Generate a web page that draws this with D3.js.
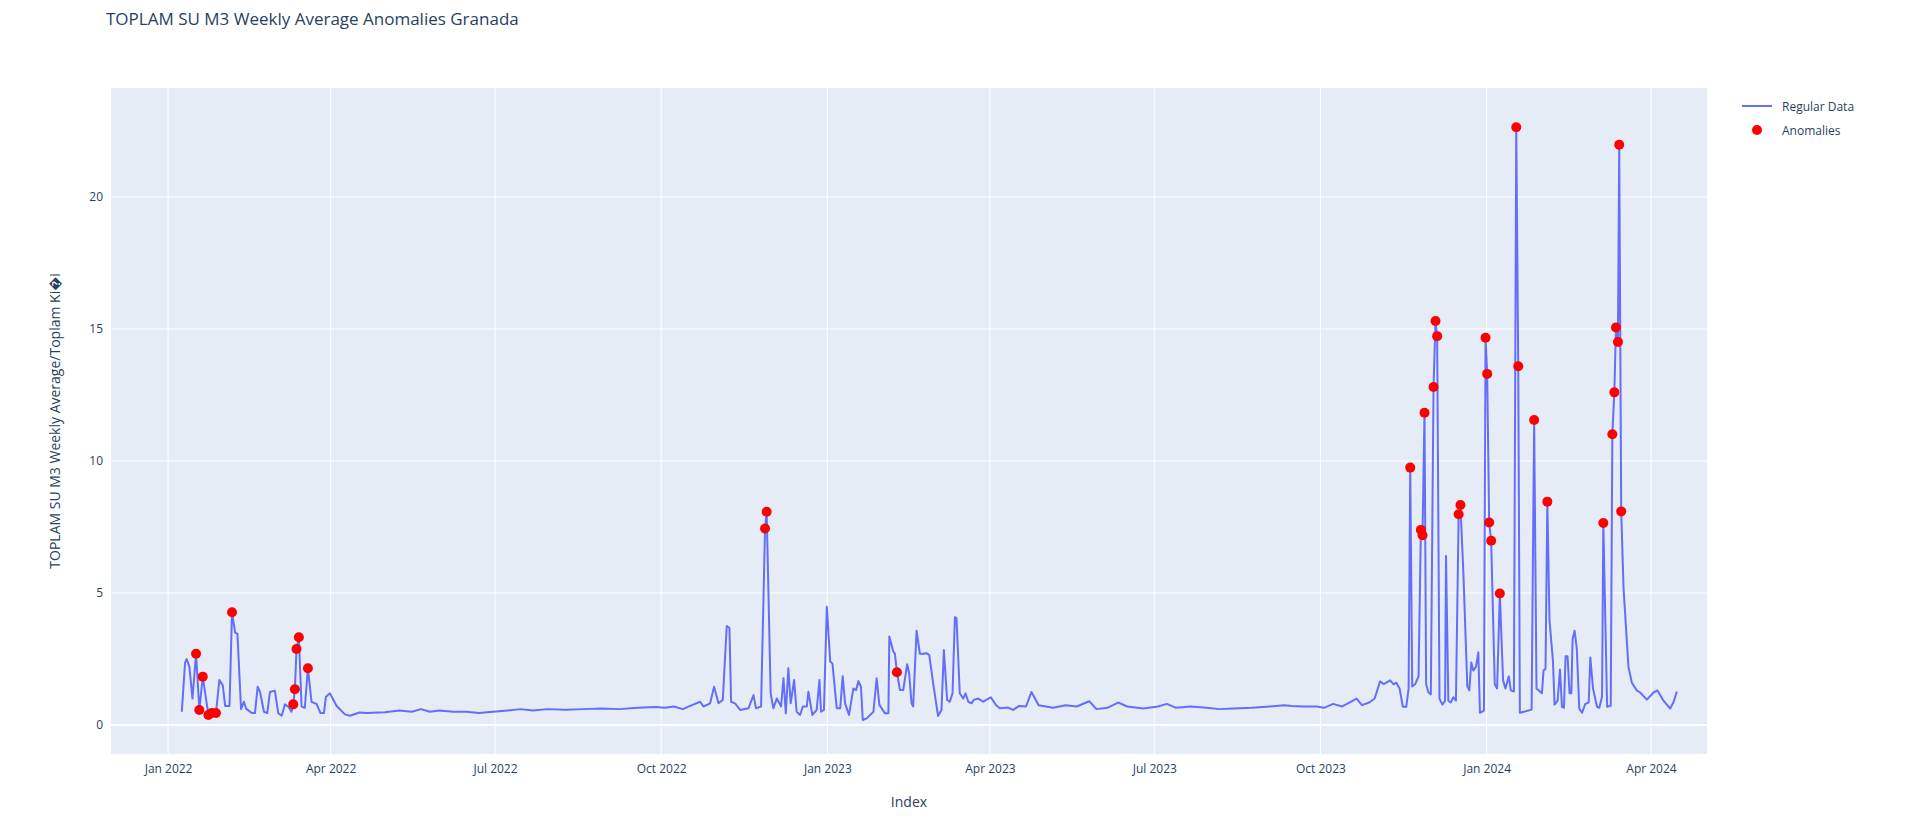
<!DOCTYPE html>
<html><head><meta charset="utf-8">
<script src="https://cdn.jsdelivr.net/npm/d3@7"></script>
<style>body{margin:0;background:#fff;font-family:"Open Sans",Arial,sans-serif}</style>
</head><body><svg id="c" width="1907" height="821"></svg>
<script>
const startDate = "2022-01-01";
// day offsets from startDate and values of the regular series
const days = [7.6,9.4,10.3,11.8,13.5,15.5,17.3,19.2,22.3,24.1,26.5,28.4,30.3,31.6,34,35.4,37.1,38.4,40.4,42,43.2,46.3,48.1,49.6,50.9,53.1,54.9,56.4,59.1,61,62.9,64.7,66.5,68.3,69.3,70.2,71.1,72.4,73.9,75.7,77.4,79.4,81.3,82.2,84.4,86.3,87.4,89.6,93.3,97.9,100.7,106,
110,120,128,135,140,145,150,158,165,172,180,188,195,202,210,220,230,240,250,260,270,275,280,285,290,
294.6,296.4,300.1,302.3,304.7,307.1,309.3,310.8,311.7,313.9,316.7,321.3,324.1,325.5,328.3,330.5,331.4,333.6,335.1,337,339.4,340.7,342,343.4,344.7,346.6,348,349.9,351.4,353.6,354.5,356.7,359.1,360.6,361.5,363.1,364.7,366.6,367.8,370.2,372.1,373.5,374.8,377,379.4,380.9,382.2,383.6,384.6,386.8,390.5,392.3,393.8,396.9,398.8,399.3,401.5,402.4,403.5,405.2,407,409.2,410.3,411.6,412.5,414.4,416.2,418.4,419.9,421.4,423.6,426.3,428.2,429.5,431.3,432.8,434.3,435.6,436.5,438.3,440.2,441.5,443,444.8,446.1,448.5,451.3,455.5,458.3,460.5,465.1,467.8,471.2,
475,478,482,490,497,503,510,514,520,526,531,540,548,553,558,566,575,582,590,600,610,618,622,628,636,640,645,650,654,658,661,665,668,671,673,
676.6,678.5,680,681.8,683.6,685.5,686.8,687.7,688.8,690.4,692.3,693.6,694.5,695.6,696.5,697.8,699.1,700.6,701.7,702.6,703.9,705.5,707,707.5,708.8,710.1,711.6,713,714.5,715.5,717.1,719.3,720.4,721.5,722.6,724.1,725.4,726.3,728.5,729.4,730.3,731.4,732.5,734.5,735.8,737.3,739.1,740.4,742.3,743.4,745.1,746.4,747.5,748.4,754.9,756.3,757.6,759.5,760.6,761.5,762.6,763.6,764.8,766.7,767.6,769.3,770.6,771.7,772.8,773.7,774.8,775.9,776.9,777.6,778.7,779.9,781.3,782.8,784.6,786.5,787.4,788.9,791.1,792.4,793.9,794.6,796.7,798.7,799.6,800.7,801.6,802.7,803.4,804.5,805.8,808.5,810.4,813.1,815,818.7,822.4,824.6,827.9,831.6,833.4,835.3];
const values = [0.5,2.35,2.5,2.2,1.0,2.7,0.57,1.83,0.38,0.45,0.45,1.7,1.5,0.72,0.72,4.27,3.5,3.45,0.6,0.88,0.62,0.45,0.45,1.45,1.25,0.5,0.45,1.25,1.3,0.45,0.35,0.78,0.7,0.5,0.78,1.35,2.88,3.32,0.7,0.65,2.15,0.88,0.82,0.8,0.45,0.45,1.07,1.2,0.72,0.4,0.35,0.47,
0.45,0.48,0.55,0.5,0.6,0.5,0.55,0.5,0.5,0.45,0.5,0.55,0.6,0.55,0.6,0.58,0.6,0.62,0.6,0.65,0.68,0.65,0.7,0.6,0.75,
0.88,0.7,0.82,1.45,0.82,0.95,3.75,3.67,0.88,0.82,0.57,0.63,1.13,0.63,0.7,7.44,8.08,1.2,0.63,1.0,0.7,1.77,0.44,2.15,0.82,1.7,0.5,0.38,0.7,0.7,1.26,0.38,0.57,1.7,0.5,0.57,4.48,2.4,2.33,0.63,0.63,1.85,0.82,0.38,1.38,1.32,1.66,1.45,0.19,0.25,0.5,1.77,0.76,0.44,0.44,3.35,2.78,2.7,2.0,1.32,1.32,2.3,1.95,0.82,0.7,3.57,2.7,2.7,2.72,2.65,1.57,0.34,0.57,2.84,0.95,0.88,1.2,4.08,4.05,1.2,1.0,1.2,0.88,0.82,0.95,1.0,0.88,1.05,0.76,0.63,0.66,0.57,0.72,
0.7,1.25,0.75,0.65,0.75,0.7,0.9,0.6,0.65,0.85,0.7,0.62,0.7,0.8,0.65,0.7,0.65,0.6,0.62,0.65,0.7,0.75,0.72,0.7,0.7,0.65,0.8,0.7,0.85,1.0,0.75,0.85,1.0,1.65,1.55,
1.69,1.54,1.6,1.38,0.69,0.69,1.38,9.75,1.46,1.54,1.84,7.39,7.19,11.83,1.54,1.23,1.16,12.8,15.3,14.73,1.0,0.77,0.92,6.4,0.92,0.85,1.05,0.92,7.98,8.33,5.8,1.46,1.31,2.37,2.06,2.21,2.75,0.46,0.54,14.67,13.3,7.67,6.98,1.54,1.38,4.98,1.69,1.38,1.84,1.31,1.27,22.64,13.59,0.46,0.58,11.55,1.38,1.27,1.2,2.06,2.13,8.46,3.96,2.44,0.77,0.92,2.1,0.69,0.65,2.6,2.6,1.2,1.2,3.27,3.57,2.9,0.62,0.46,0.8,0.85,2.56,1.38,0.69,0.65,1.08,7.65,0.69,0.73,11.01,12.6,15.06,14.51,21.98,8.09,5.18,2.21,1.6,1.31,1.23,0.96,1.23,1.31,0.92,0.62,0.85,1.27];
const anomalyDays = [15.5,17.3,19.2,22.3,24.1,26.5,35.4,69.3,70.2,71.1,72.4,77.4,330.5,331.4,403.5,687.7,693.6,694.5,695.6,700.6,701.7,702.6,714.5,715.5,729.4,730.3,731.4,732.5,737.3,746.4,747.5,756.3,763.6,794.6,799.6,800.7,801.6,802.7,803.4,804.5];
const anomalyValues = [2.7,0.57,1.83,0.38,0.45,0.45,4.27,0.78,1.35,2.88,3.32,2.15,7.44,8.08,2.0,9.75,7.39,7.19,11.83,12.8,15.3,14.73,7.98,8.33,14.67,13.3,7.67,6.98,4.98,22.64,13.59,11.55,8.46,7.65,11.01,12.6,15.06,14.51,21.98,8.09];
const yTicks = [0,5,10,15,20];
const legendLabels = ["Regular Data","Anomalies"];

const svg = d3.select("#c");
const L=111,R=1707,T=88,B=754;
const s0 = d3.timeParse("%Y-%m-%d")(startDate);
const toDate = d => new Date(s0.getTime() + d*864e5);
const x = d3.scaleTime().domain([toDate(-31.6), toDate(852)]).range([L,R]);
const y = d3.scaleLinear().domain([-1.1,24.13]).range([B,T]);
svg.append("rect").attr("x",L).attr("y",T).attr("width",R-L).attr("height",B-T).attr("fill","#e5ecf6");
const xt = d3.timeMonth.every(3).range(s0, toDate(852));
const g = svg.append("g");
g.selectAll(".vx").data(xt).join("line").attr("x1",d=>x(d)).attr("x2",d=>x(d)).attr("y1",T).attr("y2",B).attr("stroke","#fff").attr("stroke-width",1);
g.selectAll(".hy").data(yTicks).join("line").attr("x1",L).attr("x2",R).attr("y1",d=>y(d)).attr("y2",d=>y(d)).attr("stroke","#fff").attr("stroke-width",d=>d===0?2:1);
const xa = svg.append("g").attr("transform",`translate(0,${B})`).call(d3.axisBottom(x).tickValues(xt).tickFormat(d3.timeFormat("%b %Y")).tickSize(0).tickPadding(10));
const ya = svg.append("g").attr("transform",`translate(${L},0)`).call(d3.axisLeft(y).tickValues(yTicks).tickSize(0).tickPadding(8));
[xa,ya].forEach(a=>{a.select(".domain").remove();a.selectAll("text").attr("font-size",12).attr("fill","#2a3f5f").attr("font-family","'Open Sans',Arial,sans-serif");});
const pts = days.map((d,i)=>[toDate(d),values[i]]);
svg.append("path").datum(pts).attr("fill","none").attr("stroke","#636efa").attr("stroke-width",2).attr("stroke-linejoin","round")
 .attr("d",d3.line().x(d=>x(d[0])).y(d=>y(d[1])));
svg.selectAll(".an").data(anomalyDays).join("circle").attr("cx",d=>x(toDate(d))).attr("cy",(d,i)=>y(anomalyValues[i])).attr("r",5).attr("fill","red");
const tf="'Open Sans',Arial,sans-serif";
svg.append("text").attr("x",106).attr("y",25).attr("font-size",17).attr("fill","#2a3f5f").attr("font-family",tf).text("TOPLAM SU M3 Weekly Average Anomalies Granada");
svg.append("text").attr("x",(L+R)/2).attr("y",807).attr("text-anchor","middle").attr("font-size",14).attr("fill","#2a3f5f").attr("font-family",tf).text("Index");
svg.append("text").attr("transform",`translate(60,${(T+B)/2}) rotate(-90)`).attr("text-anchor","middle").attr("font-size",14).attr("fill","#2a3f5f").attr("font-family",tf).text("TOPLAM SU M3 Weekly Average/Toplam Ki\uFFFDi");
const lg = svg.append("g").attr("transform","translate(1742,106)");
lg.append("line").attr("x1",0).attr("x2",30).attr("stroke","#636efa").attr("stroke-width",2);
lg.append("circle").attr("cx",15).attr("cy",24).attr("r",5).attr("fill","red");
lg.selectAll("text").data(legendLabels).join("text").attr("x",40).attr("y",(d,i)=>i*24+4.5).attr("font-size",12).attr("fill","#2a3f5f").attr("font-family",tf).text(d=>d);
</script></body></html>
